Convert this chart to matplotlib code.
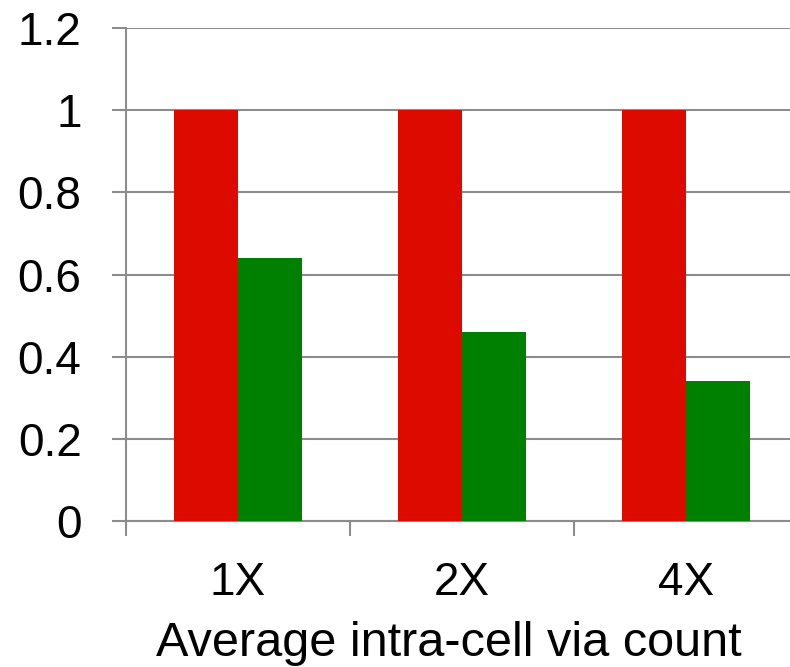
import matplotlib
matplotlib.use("Agg")
import matplotlib.pyplot as plt
import numpy as np

categories = ["1X", "2X", "4X"]
series_red = [1.0, 1.0, 1.0]
series_green = [0.64, 0.46, 0.34]
y_ticks = [0, 0.2, 0.4, 0.6, 0.8, 1, 1.2]
y_tick_labels = ["0", "0.2", "0.4", "0.6", "0.8", "1", "1.2"]
x_label = "Average intra-cell via count"

plt.rcParams['font.family'] = ['Liberation Sans', 'DejaVu Sans']

W, H = 790, 667
fig = plt.figure(figsize=(W / 100, H / 100), dpi=100)
left, right, top, bottom = 126, 798, 28, 521
ax = fig.add_axes([left / W, (H - bottom) / H, (right - left) / W, (bottom - top) / H])

x = np.arange(len(categories))
bw = 0.2857
ax.bar(x - bw / 2, series_red, width=bw, color="#DD0A00", zorder=3)
ax.bar(x + bw / 2, series_green, width=bw, color="#008000", zorder=3)

ax.set_xlim(-0.5, len(categories) - 0.5)
ax.set_ylim(0, 1.2)
ax.set_yticks(y_ticks)
ax.set_yticklabels(y_tick_labels)
ax.set_xticks(np.arange(len(categories) + 1) - 0.5, minor=False)
ax.set_xticklabels([""] * (len(categories) + 1))
ax.set_xticks(x, minor=True)
ax.set_xticklabels(categories, minor=True)

grey = "#8C8C8C"
ax.yaxis.grid(True, color=grey, linewidth=1.5, zorder=1)
for s in ["top", "right"]:
    ax.spines[s].set_visible(False)
for s in ["left", "bottom"]:
    ax.spines[s].set_color(grey)
    ax.spines[s].set_linewidth(1.5)
ax.tick_params(axis="y", which="major", direction="out", length=10, width=1.5,
               color=grey, labelsize=33, pad=22)
ax.tick_params(axis="x", which="major", direction="out", length=11, width=1.5,
               color=grey)
ax.tick_params(axis="x", which="minor", length=0, labelsize=33, pad=29)

fig.text(448.5 / W, 1 - 643 / H, x_label, ha="center", va="center", fontsize=35)

fig.savefig("out.png", dpi=100)
